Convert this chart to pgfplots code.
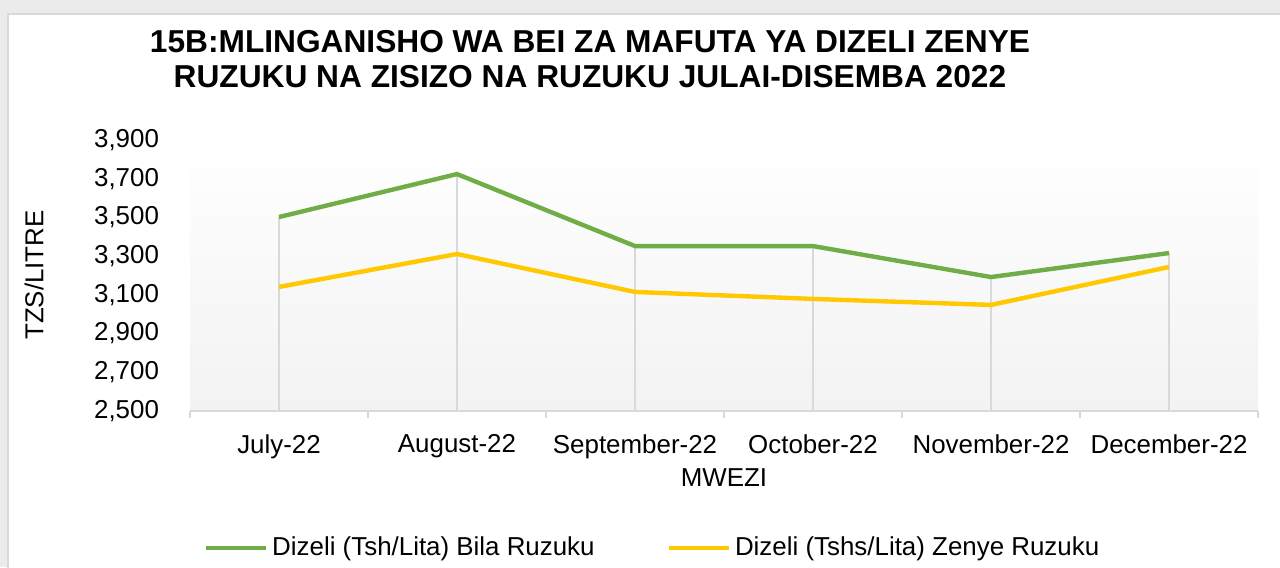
\documentclass[border=0pt]{standalone}
\usepackage{fontspec}
\setmainfont{Liberation Sans}
\usepackage{pgfplots}
\pgfplotsset{compat=1.18}
\definecolor{dgreen}{HTML}{70AD47}
\definecolor{dyellow}{HTML}{FFC800}
\definecolor{lgray}{HTML}{D9D9D9}
\definecolor{bggray}{HTML}{EBEBEB}

\begin{document}
\begin{tikzpicture}[x=1bp,y=1bp]
\useasboundingbox (0,0) rectangle (640,283.5);
\fill[bggray] (0,0) rectangle (640,283.5);
\filldraw[fill=white,draw=lgray,line width=1bp] (4,-2) rectangle (642,276.5);
\node[font=\bfseries\fontsize{15.9}{17.5}\selectfont,align=center] at (295,254)
  {15B:MLINGANISHO WA BEI ZA MAFUTA YA DIZELI ZENYE\\RUZUKU NA ZISIZO NA RUZUKU JULAI-DISEMBA 2022};
\node[font=\fontsize{13}{15}\selectfont, rotate=90] at (17,146) {TZS/LITRE};
\begin{axis}[
    at={(95bp,78bp)}, anchor=south west,
    width=534bp, height=135.5bp, scale only axis,
    xmin=-0.5, xmax=5.5, ymin=2500, ymax=3900,
    xtick={0,...,5},
    xticklabels={July-22,August-22,September-22,October-22,November-22,December-22},
    minor xtick={-0.5,0.5,...,5.5},
    major x tick style={draw=none},
    minor x tick style={lgray, line width=1bp},
    minor tick length=3.5bp,
    xtick align=outside,
    ytick={2500,2700,...,3900},
    major y tick style={draw=none},
    axis x line*=bottom, axis y line*=left,
    x axis line style={lgray, line width=1bp, -},
    y axis line style={draw=none},
    axis background/.style={shade, top color=white, bottom color=black!5},
    tick label style={font=\fontsize{13}{15}\selectfont},
    /pgf/number format/assume math mode=true,
    /pgf/number format/1000 sep={,},
    yticklabel style={xshift=-12bp},
    xticklabel style={yshift=-4bp},
    xlabel={MWEZI},
    label style={font=\fontsize{13}{15}\selectfont},
    xlabel style={yshift=2bp},
    legend style={at={(rel axis cs:0.434,0)}, anchor=center, draw=none, fill=none,
        font=\fontsize{13}{15}\selectfont, legend columns=2,
        /tikz/every even column/.append style={column sep=34bp},
        yshift=-68.5bp},
    legend image code/.code={\draw[#1, line width=2.2bp] (0bp,0bp) -- (30bp,0bp);},
]
\addplot[ycomb, lgray, line width=0.8bp, forget plot] coordinates {
    (0,3502) (1,3724) (2,3352) (3,3352) (4,3192) (5,3316)
};
\addplot[dgreen, line width=2.2bp] coordinates {
    (0,3502) (1,3724) (2,3352) (3,3352) (4,3192) (5,3316)
};
\addlegendentry{Dizeli (Tsh/Lita) Bila Ruzuku}
\addplot[dyellow, line width=2.2bp] coordinates {
    (0,3141) (1,3311) (2,3115) (3,3079) (4,3048) (5,3244)
};
\addlegendentry{Dizeli (Tshs/Lita) Zenye Ruzuku}
\end{axis}
\end{tikzpicture}
\end{document}
